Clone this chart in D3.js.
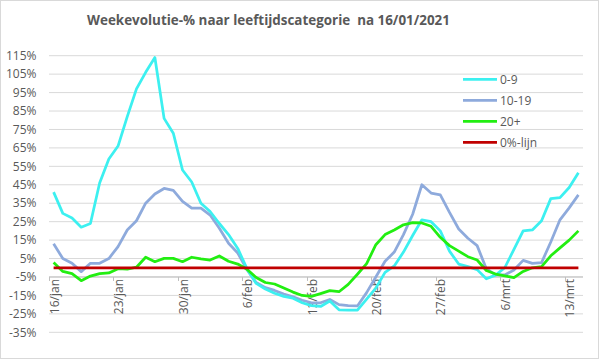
<!DOCTYPE html>
<html><head><meta charset="utf-8">
<script src="https://cdn.jsdelivr.net/npm/d3@7"></script>
<style>body{margin:0;background:#fff}svg{display:block}</style>
</head><body><svg id="c" width="599" height="359"></svg>
<script>
const categories = ["16/jan","17/jan","18/jan","19/jan","20/jan","21/jan","22/jan","23/jan","24/jan","25/jan","26/jan","27/jan","28/jan","29/jan","30/jan","31/jan",
"1/feb","2/feb","3/feb","4/feb","5/feb","6/feb","7/feb","8/feb","9/feb","10/feb","11/feb","12/feb","13/feb","14/feb","15/feb","16/feb","17/feb","18/feb","19/feb","20/feb","21/feb","22/feb","23/feb","24/feb","25/feb","26/feb","27/feb","28/feb",
"1/mrt","2/mrt","3/mrt","4/mrt","5/mrt","6/mrt","7/mrt","8/mrt","9/mrt","10/mrt","11/mrt","12/mrt","13/mrt","14/mrt"];
const s0_9 = [41,29.5,27,22,24,46,59,66,82,97,106,114,81,73,53,46.5,35,30.5,24,18,10.5,-0.5,-8.5,-11.5,-13.8,-15.5,-16.5,-19,-20.5,-21,-18,-22.8,-23,-23,-17,-11,-2.5,1,8.5,17.5,26,25,20,9,2,0.6,-1,-6,-4,0,10,20,20.5,25.5,37.5,38,43.5,51.5];
const s10_19 = [13,5,2.4,-2.1,2.4,2.4,5,11.5,20.5,25.5,35,40,43,42,36,32.3,32.3,28.6,21.4,13.3,8,-1,-8,-10.8,-12.3,-14.2,-15.8,-17.6,-19,-19,-17.2,-20,-20.5,-20.7,-13.5,-5,3.5,8.5,18,29,45,40.5,39.5,30,21,16,12,-0.5,-3.9,-3.9,-1.2,4,2.4,2.8,14,26,32.5,39.5];
const s20 = [2.8,-2,-3.2,-7,-4.5,-3.2,-2.8,-0.5,-0.8,0.3,5.7,3.3,5.1,5.1,3.3,5.7,4.8,4.2,6.4,3.5,2,-0.8,-5.3,-8,-8.8,-11,-13.2,-15,-15.5,-14,-12.4,-13,-9,-3.5,2.2,12.5,18,20.5,23.3,24.5,24.3,22.5,16.5,12,9,6,4.2,-1.5,-3.4,-4.4,-5.4,-2,0,0.6,6.5,10.8,15,20];
const zeroLine = categories.map(() => 0);
const yTicks = [-35,-25,-15,-5,5,15,25,35,45,55,65,75,85,95,105,115];
const xTickLabels = ["16/jan","23/jan","30/jan","6/feb","13/feb","20/feb","27/feb","6/mrt","13/mrt"];
const seriesNames = ["0-9","10-19","20+","0%-lijn"];
const title = "Weekevolutie-% naar leeftijdscategorie\u00a0\u00a0na 16/01/2021";

const colors = ["#3cf0f0","#8eaadc","#22ee11","#c00000"];
const svg = d3.select("#c");
const font = "'Open Sans', 'Noto Sans', sans-serif";
const txt = "#595959";

svg.append("rect").attr("x",0.5).attr("y",0.5).attr("width",598).attr("height",358)
  .attr("fill","#fff").attr("stroke","#d9d9d9");

const x = d3.scaleBand().domain(categories).range([49,583]).padding(0);
const y = d3.scaleLinear().domain([-35,115]).range([332.3,55.7]);

// gridlines
svg.append("g").selectAll("line").data(yTicks).join("line")
  .attr("x1",49).attr("x2",583).attr("y1",d=>y(d)).attr("y2",d=>y(d))
  .attr("stroke","#d9d9d9").attr("stroke-width",1);

// y labels
svg.append("g").selectAll("text").data(yTicks).join("text")
  .attr("x",36.5).attr("y",d=>y(d)).attr("dy","0.35em").attr("text-anchor","end")
  .attr("font-family",font).attr("font-size",12).attr("fill",txt)
  .text(d=>d+"%");

// x axis at -5%
const xa = svg.append("g");
xa.append("line").attr("x1",49).attr("x2",583).attr("y1",y(-5)).attr("y2",y(-5))
  .attr("stroke","#bfbfbf");
const tickCats = categories.filter((c,i)=>i%7===0);
xa.selectAll("line.t").data(tickCats).join("line").attr("class","t")
  .attr("x1",d=>Math.round(x(d))+0.5).attr("x2",d=>Math.round(x(d))+0.5)
  .attr("y1",y(-5)).attr("y2",y(-5)+4).attr("stroke","#bfbfbf");
xa.selectAll("text").data(xTickLabels).join("text")
  .attr("transform",d=>`translate(${x(d)+x.bandwidth()/2+1},${y(-5)+2}) rotate(-90)`)
  .attr("dy","0.35em").attr("text-anchor","end")
  .attr("font-family",font).attr("font-size",12).attr("fill",txt).text(d=>d);

// lines
const line = d3.line().x((d,i)=>x(categories[i])+x.bandwidth()/2).y(d=>y(d));
const allSeries = [s0_9, s10_19, s20, zeroLine];
const order = [1,0,2,3];
svg.append("g").selectAll("path").data(order).join("path")
  .attr("d",k=>line(allSeries[k])).attr("fill","none")
  .attr("stroke",k=>colors[k]).attr("stroke-width",2.75).attr("stroke-linejoin","round");

// legend
const lg = svg.append("g");
seriesNames.forEach((n,i)=>{
  const yy = 79.3 + i*21;
  lg.append("line").attr("x1",463).attr("x2",497).attr("y1",yy).attr("y2",yy)
    .attr("stroke",colors[i]).attr("stroke-width",2.75);
  lg.append("text").attr("x",500).attr("y",yy).attr("dy","0.35em")
    .attr("font-family",font).attr("font-size",12).attr("fill",txt).text(n);
});

// title
const t = svg.append("text").attr("x",268.5).attr("y",25).attr("text-anchor","middle")
  .attr("font-family",font).attr("font-weight","bold").attr("font-size",16).attr("fill",txt)
  .text(title);
const len = t.node().getComputedTextLength();
t.attr("font-size",16*363/len);
</script></body></html>
